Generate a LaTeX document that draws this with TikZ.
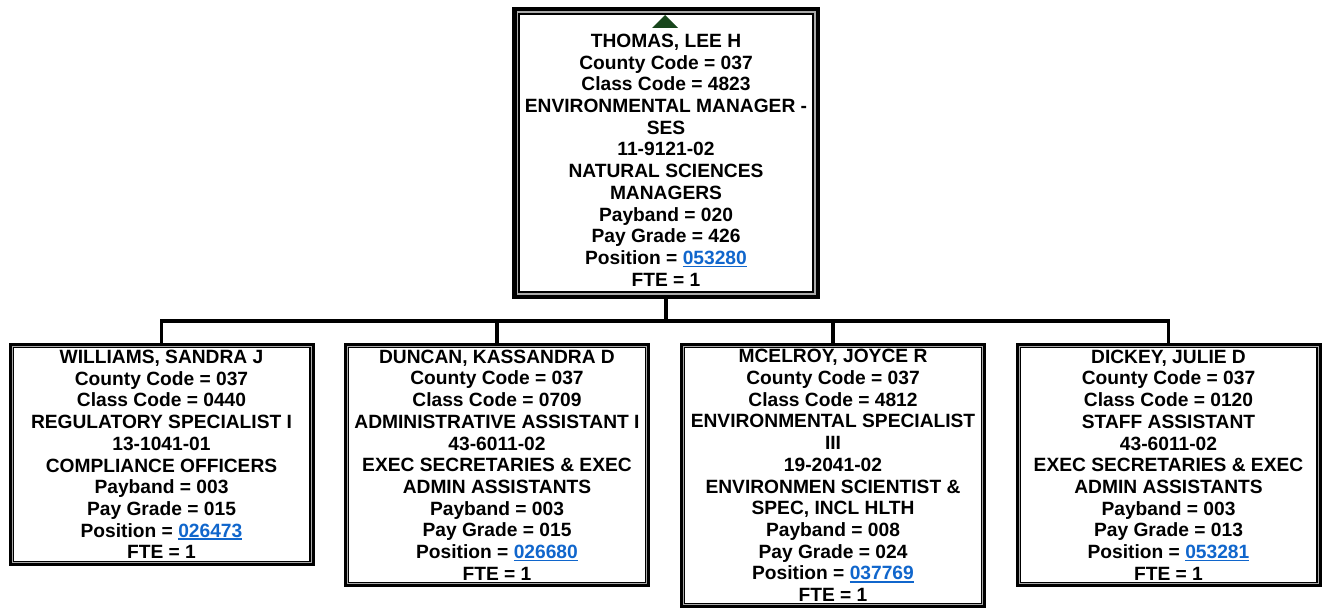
\documentclass[tikz,border=0pt]{standalone}
\usepackage{fontspec}
\setmainfont{Liberation Sans}
\usetikzlibrary{calc}

\definecolor{linkblue}{RGB}{16,102,204}
\definecolor{markgreen}{RGB}{24,70,28}
\definecolor{gapgray}{RGB}{170,170,170}

% underlined position link
\newcommand\poslink[1]{{\color{linkblue}\setbox0\hbox{#1}\rlap{\rule[-2.9pt]{\wd0}{1.8pt}}\box0}}

% inner line of a double frame: node, inset, line width, colour
\newcommand\frameline[4]{%
  \draw[line width=#3, draw=#4]
    ([xshift=#2pt,yshift=-#2pt]#1.north west) rectangle
    ([xshift=-#2pt,yshift=#2pt]#1.south east);}

\tikzset{
  card/.style={draw=black, fill=white, line width=3pt, inner sep=0pt,
    minimum width=303pt, align=center,
    font=\fontsize{19.2}{21.7}\selectfont\bfseries},
  headcard/.style={card, line width=4.5pt, minimum width=303.5pt,
    minimum height=287.5pt},
  conn/.style={draw=black, line width=3.5pt, line join=miter}
}

\begin{document}
\begin{tikzpicture}[x=1pt,y=-1pt]
\useasboundingbox (0,0) rectangle (1323,610);

% head of the unit
\node[headcard] (top) at (666,153) {%
  \rule{0pt}{27.5pt}THOMAS, LEE H\\
  County Code = 037\\
  Class Code = 4823\\
  ENVIRONMENTAL MANAGER -\\
  SES\\
  11-9121-02\\
  NATURAL SCIENCES\\
  MANAGERS\\
  Payband = 020\\
  Pay Grade = 426\\
  Position = \poslink{053280}\\
  FTE = 1};
\frameline{top}{5.25}{1.5pt}{gapgray}
\frameline{top}{7}{2pt}{black}

% marker above the head's name
\fill[markgreen] (665,15) -- (678,28) -- (652,28) -- cycle;

% direct reports
\node[card, minimum height=220pt] (b1) at (161.5,454.5) {%
  WILLIAMS, SANDRA J\\
  County Code = 037\\
  Class Code = 0440\\
  REGULATORY SPECIALIST I\\
  13-1041-01\\
  COMPLIANCE OFFICERS\\
  Payband = 003\\
  Pay Grade = 015\\
  Position = \poslink{026473}\\
  FTE = 1};

\node[card, minimum height=241pt] (b2) at (497,465) {%
  DUNCAN, KASSANDRA D\\
  County Code = 037\\
  Class Code = 0709\\
  ADMINISTRATIVE ASSISTANT I\\
  43-6011-02\\
  EXEC SECRETARIES \& EXEC\\
  ADMIN ASSISTANTS\\
  Payband = 003\\
  Pay Grade = 015\\
  Position = \poslink{026680}\\
  FTE = 1};

\node[card, minimum height=262pt] (b3) at (833,475.5) {%
  MCELROY, JOYCE R\\
  County Code = 037\\
  Class Code = 4812\\
  ENVIRONMENTAL SPECIALIST\\
  III\\
  19-2041-02\\
  ENVIRONMEN SCIENTIST \&\\
  SPEC, INCL HLTH\\
  Payband = 008\\
  Pay Grade = 024\\
  Position = \poslink{037769}\\
  FTE = 1};

\node[card, minimum height=241pt] (b4) at (1168.5,465) {%
  DICKEY, JULIE D\\
  County Code = 037\\
  Class Code = 0120\\
  STAFF ASSISTANT\\
  43-6011-02\\
  EXEC SECRETARIES \& EXEC\\
  ADMIN ASSISTANTS\\
  Payband = 003\\
  Pay Grade = 013\\
  Position = \poslink{053281}\\
  FTE = 1};

\foreach \n in {b1,b2,b3,b4}{%
  \frameline{\n}{3.5}{1pt}{gapgray}
  \frameline{\n}{4.6}{1.2pt}{black}
}

% reporting lines
\coordinate (bus) at ([yshift=-22pt]top.south);
\draw[conn] (top.south) -- (bus);
\foreach \n in {b1,b2,b3,b4}{%
  \draw[conn] (bus) -| (\n.north);
}
\end{tikzpicture}
\end{document}
